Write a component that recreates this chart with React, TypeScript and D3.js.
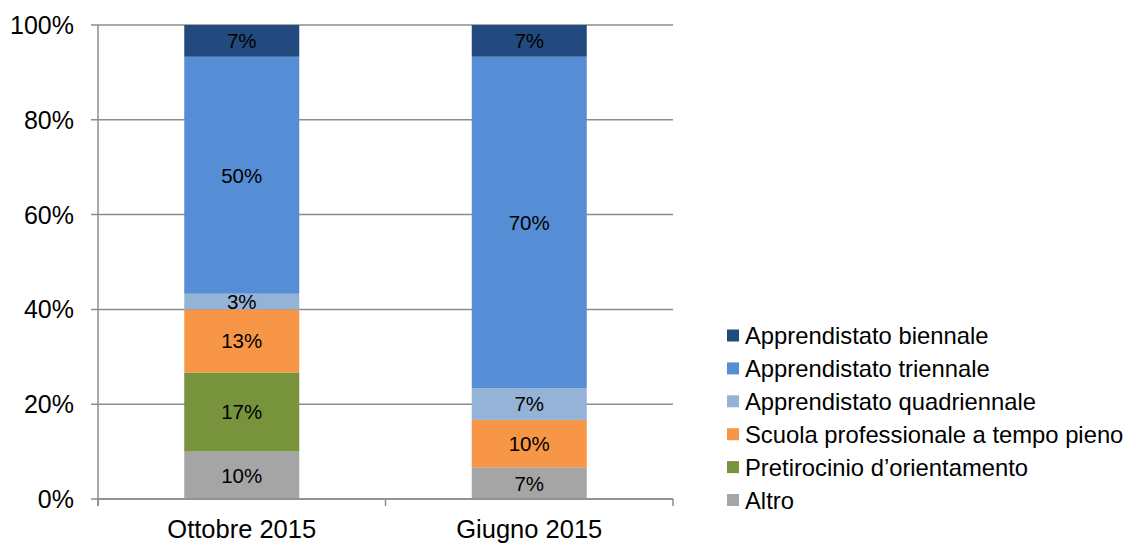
import React from "react";
import * as d3 from "d3";

const categories = ["Ottobre 2015", "Giugno 2015"];
const seriesNames = [
  "Altro",
  "Pretirocinio d’orientamento",
  "Scuola professionale a tempo pieno",
  "Apprendistato quadriennale",
  "Apprendistato triennale",
  "Apprendistato biennale",
];
const seriesColors = ["#a5a5a5", "#77933c", "#f79646", "#95b3d7", "#558ed5", "#234a7e"];
const ottobreValues = [10, 16.7, 13.3, 3.3, 50, 6.7];
const giugnoValues = [6.7, 0, 10, 6.7, 70, 6.7];
const yTicks = [0, 20, 40, 60, 80, 100];

const W = 1128;
const H = 543;
const margin = { left: 98, right: 673, top: 25, bottom: 499 };
const FONT = "'Liberation Sans', Arial, Helvetica, sans-serif";

export default function App() {
  const values = [ottobreValues, giugnoValues];
  const rows = categories.map((c, i) => {
    const r: any = { cat: c };
    seriesNames.forEach((s, j) => (r[s] = values[i][j]));
    return r;
  });
  const stack = d3.stack<any>().keys(seriesNames).offset(d3.stackOffsetExpand);
  const stacked = stack(rows);

  const x = d3.scaleBand().domain(categories).range([margin.left, margin.right]).paddingInner(0).paddingOuter(0);
  const y = d3.scaleLinear().domain([0, 1]).range([margin.bottom, margin.top]);
  const barW = x.bandwidth() * 0.4;

  const legendOrder = [...seriesNames].reverse();
  const legendColors = [...seriesColors].reverse();

  return (
    <svg width={W} height={H} style={{ position: "absolute", left: 0, top: 0, background: "#fff" }} fontFamily={FONT}>
      {/* gridlines */}
      {yTicks.map((t) => (
        <line key={t} x1={margin.left - 7} x2={margin.right} y1={y(t / 100)} y2={y(t / 100)} stroke="#8c8c8c" strokeWidth={1.5} />
      ))}
      {yTicks.map((t) => (
        <text key={"l" + t} x={74} y={y(t / 100)} dy="0.36em" textAnchor="end" fontSize={25} fill="#000">
          {t}%
        </text>
      ))}
      {/* bars */}
      {stacked.map((layer, si) =>
        layer.map((d, ci) => {
          const cat = categories[ci];
          const h = y(d[0]) - y(d[1]);
          if (h <= 0) return null;
          return (
            <rect
              key={si + "-" + ci}
              x={(x(cat) as number) + (x.bandwidth() - barW) / 2}
              y={y(d[1])}
              width={barW}
              height={h}
              fill={seriesColors[si]}
            />
          );
        })
      )}
      {/* axes */}
      <line x1={margin.left} x2={margin.left} y1={margin.top} y2={margin.bottom + 7} stroke="#8c8c8c" strokeWidth={1.5} />
      <line x1={margin.left} x2={margin.right} y1={margin.bottom} y2={margin.bottom} stroke="#8c8c8c" strokeWidth={1.5} />
      {[...categories.map((c) => x(c) as number), margin.right].map((px, i) => (
        <line key={"xt" + i} x1={px} x2={px} y1={margin.bottom} y2={margin.bottom + 7} stroke="#8c8c8c" strokeWidth={1.5} />
      ))}
      {/* labels */}
      {stacked.map((layer, si) =>
        layer.map((d, ci) => {
          const cat = categories[ci];
          const v = values[ci][si];
          if (v <= 0) return null;
          return (
            <text
              key={"t" + si + "-" + ci}
              x={(x(cat) as number) + x.bandwidth() / 2}
              y={(y(d[0]) + y(d[1])) / 2}
              dy="0.36em"
              textAnchor="middle"
              fontSize={20.5}
              fill="#000"
            >
              {Math.round(v)}%
            </text>
          );
        })
      )}
      {categories.map((c) => (
        <text key={"c" + c} x={(x(c) as number) + x.bandwidth() / 2} y={538} textAnchor="middle" fontSize={25.5} fill="#000">
          {c}
        </text>
      ))}
      {/* legend */}
      {legendOrder.map((s, i) => {
        const cy = 335.5 + i * 32.9;
        return (
          <g key={"lg" + s}>
            <rect x={727} y={cy - 6} width={12} height={12} fill={legendColors[i]} />
            <text x={745} y={cy} dy="0.36em" fontSize={23.8} fill="#000">
              {s}
            </text>
          </g>
        );
      })}
    </svg>
  );
}
